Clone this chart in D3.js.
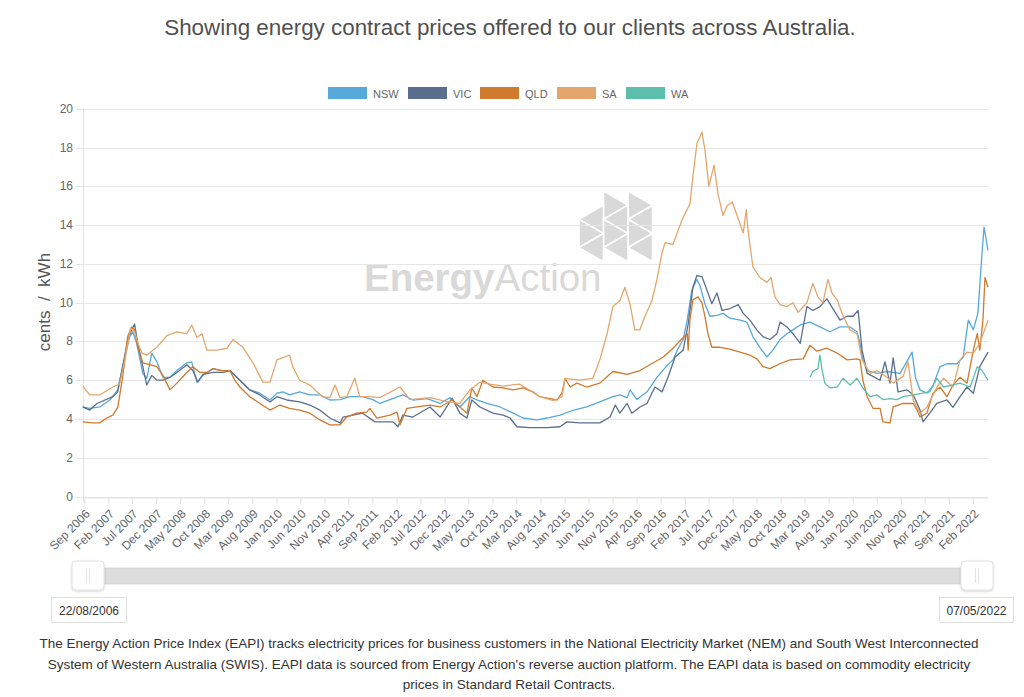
<!DOCTYPE html>
<html>
<head>
<meta charset="utf-8">
<script src="https://cdn.jsdelivr.net/npm/d3@7"></script>
<style>
  html, body { margin: 0; padding: 0; background: #fff; }
  svg { display: block; font-family: "Liberation Sans", Arial, Helvetica, sans-serif; }
</style>
</head>
<body>
<svg id="chart" width="1024" height="697"></svg>
<script>
// ---------------- DATA ----------------
const seriesNames = ["NSW", "VIC", "QLD", "SA", "WA"];
const seriesColors = ["#58a9db", "#5a6f8e", "#cf7a2d", "#e3a76d", "#5bbfab"];

const yTicks = [0, 2, 4, 6, 8, 10, 12, 14, 16, 18, 20];
const xTickLabels = ["Sep 2006","Feb 2007","Jul 2007","Dec 2007","May 2008","Oct 2008","Mar 2009","Aug 2009",
  "Jan 2010","Jun 2010","Nov 2010","Apr 2011","Sep 2011","Feb 2012","Jul 2012","Dec 2012","May 2013","Oct 2013",
  "Mar 2014","Aug 2014","Jan 2015","Jun 2015","Nov 2015","Apr 2016","Sep 2016","Feb 2017","Jul 2017","Dec 2017",
  "May 2018","Oct 2018","Mar 2019","Aug 2019","Jan 2020","Jun 2020","Nov 2020","Apr 2021","Sep 2021","Feb 2022"];

const rangeStart = "22/08/2006";
const rangeEnd = "07/05/2022";

const nsw = [
  ["2006-08-22",4.62],["2006-10-06",4.55],["2006-12-08",4.62],["2007-02-10",4.98],["2007-04-01",5.5],
  ["2007-05-02",6.7],["2007-06-16",8.25],["2007-07-05",8.5],["2007-07-30",7.9],["2007-09-07",6.35],
  ["2007-10-02",6.1],["2007-11-03",7.4],["2007-12-05",6.95],["2008-01-12",6.15],["2008-02-26",6.15],
  ["2008-04-10",6.5],["2008-06-12",6.9],["2008-07-13",6.95],["2008-08-15",5.9],["2008-09-22",6.25],
  ["2008-11-25",6.6],["2009-01-28",6.5],["2009-03-11",6.5],["2009-05-14",6.0],["2009-07-16",5.5],
  ["2009-09-18",5.33],["2009-11-21",4.98],["2010-01-04",5.33],["2010-02-11",5.4],["2010-03-25",5.24],
  ["2010-05-28",5.4],["2010-08-01",5.24],["2010-10-03",5.24],["2010-12-05",4.98],["2011-02-08",5.0],
  ["2011-04-10",5.15],["2011-07-01",5.15],["2011-09-04",5.0],["2011-10-18",4.8],["2011-12-21",5.0],
  ["2012-03-12",5.24],["2012-05-14",4.98],["2012-08-12",5.05],["2012-11-03",4.8],["2013-01-05",5.1],
  ["2013-03-08",4.62],["2013-05-10",5.15],["2013-06-24",4.98],["2013-08-27",4.8],["2013-11-18",4.62],
  ["2014-02-09",4.3],["2014-04-12",4.05],["2014-07-09",3.95],["2014-09-12",4.05],["2014-12-03",4.2],
  ["2015-02-23",4.45],["2015-05-21",4.62],["2015-08-12",4.88],["2015-11-03",5.15],["2015-12-17",5.24],
  ["2016-02-01",5.1],["2016-02-20",5.5],["2016-04-03",5.0],["2016-06-06",5.4],["2016-08-08",6.15],
  ["2016-10-11",6.75],["2016-11-18",7.05],["2016-12-15",7.55],["2017-01-21",8.1],["2017-02-16",9.1],
  ["2017-03-17",10.65],["2017-04-18",11.2],["2017-05-07",10.9],["2017-06-08",9.95],["2017-07-09",9.3],
  ["2017-08-23",9.35],["2017-10-01",9.45],["2017-11-14",9.2],["2018-01-17",9.1],["2018-03-01",9.0],
  ["2018-04-08",8.25],["2018-05-22",7.7],["2018-07-06",7.2],["2018-08-13",7.55],["2018-09-27",8.1],
  ["2018-11-10",8.4],["2018-12-18",8.6],["2019-02-02",8.85],["2019-04-05",9.0],["2019-06-07",8.75],
  ["2019-08-09",8.5],["2019-10-12",8.75],["2019-12-15",8.75],["2020-01-28",8.5],["2020-02-16",7.9],
  ["2020-03-05",7.05],["2020-04-01",6.5],["2020-06-03",6.35],["2020-08-05",6.45],["2020-10-27",6.35],
  ["2021-01-11",7.45],["2021-02-01",6.15],["2021-03-02",5.5],["2021-04-15",5.33],["2021-05-23",5.7],
  ["2021-07-07",6.7],["2021-08-20",6.85],["2021-10-23",6.85],["2021-12-01",7.2],["2022-01-02",9.1],
  ["2022-02-03",8.6],["2022-03-04",9.45],["2022-03-30",12.55],["2022-04-12",13.9],["2022-05-07",12.7]
];

const vic = [
  ["2006-08-22",4.62],["2006-10-06",4.46],["2006-11-20",4.8],["2007-03-01",5.15],["2007-04-01",5.4],
  ["2007-05-02",6.7],["2007-06-03",8.05],["2007-06-28",8.6],["2007-07-17",8.9],["2007-08-06",7.9],
  ["2007-09-07",6.7],["2007-10-02",5.75],["2007-11-03",6.25],["2007-12-05",6.0],["2008-01-12",6.0],
  ["2008-02-26",6.15],["2008-04-10",6.4],["2008-06-12",6.8],["2008-07-20",6.5],["2008-08-21",5.9],
  ["2008-09-22",6.3],["2008-11-25",6.4],["2009-01-28",6.4],["2009-03-11",6.5],["2009-05-14",6.0],
  ["2009-07-16",5.5],["2009-09-18",5.24],["2009-11-21",4.88],["2010-01-04",5.15],["2010-03-07",4.98],
  ["2010-05-28",4.88],["2010-08-01",4.72],["2010-10-03",4.46],["2010-12-05",4.05],["2011-02-08",3.8],
  ["2011-02-27",4.1],["2011-04-30",4.2],["2011-07-01",4.3],["2011-09-17",3.85],["2011-10-18",3.85],
  ["2012-01-09",3.85],["2012-02-10",3.6],["2012-03-12",4.2],["2012-05-14",4.1],["2012-08-31",4.62],
  ["2012-11-03",4.1],["2013-01-18",5.07],["2013-03-08",4.3],["2013-04-22",4.05],["2013-05-23",4.98],
  ["2013-07-13",4.62],["2013-10-04",4.3],["2013-12-07",4.2],["2014-01-20",4.05],["2014-03-04",3.6],
  ["2014-05-25",3.55],["2014-09-12",3.55],["2014-12-03",3.6],["2015-01-16",3.85],["2015-04-07",3.8],
  ["2015-08-12",3.8],["2015-10-16",4.1],["2015-11-18",4.72],["2015-12-17",4.3],["2016-02-01",4.8],
  ["2016-03-02",4.3],["2016-04-22",4.62],["2016-06-06",4.8],["2016-07-26",5.65],["2016-09-10",5.4],
  ["2016-10-17",6.15],["2016-12-01",7.2],["2017-01-21",7.55],["2017-02-22",8.9],["2017-03-24",10.8],
  ["2017-04-18",11.4],["2017-05-20",11.35],["2017-06-21",10.65],["2017-07-22",9.95],["2017-08-23",10.5],
  ["2017-09-25",9.6],["2017-11-14",9.7],["2018-01-05",9.9],["2018-02-06",9.45],["2018-03-20",9.1],
  ["2018-05-03",8.6],["2018-06-11",8.25],["2018-07-25",8.1],["2018-09-08",8.4],["2018-09-27",9.0],
  ["2018-11-10",8.75],["2018-12-18",8.4],["2019-02-02",7.9],["2019-03-16",9.8],["2019-04-23",9.6],
  ["2019-06-07",9.8],["2019-07-21",10.2],["2019-10-12",9.1],["2019-11-26",9.3],["2020-01-03",9.3],
  ["2020-02-04",9.6],["2020-02-29",7.55],["2020-04-01",6.35],["2020-05-08",6.2],["2020-06-22",6.0],
  ["2020-07-23",6.95],["2020-08-24",5.85],["2020-09-13",7.15],["2020-10-14",5.4],["2020-12-10",5.5],
  ["2021-01-18",5.25],["2021-03-02",4.46],["2021-03-21",3.85],["2021-05-03",4.3],["2021-06-17",4.8],
  ["2021-08-20",4.98],["2021-09-27",4.6],["2021-11-11",5.15],["2021-12-25",5.65],["2022-02-03",5.33],
  ["2022-03-16",6.7],["2022-05-07",7.45]
];

const qld = [
  ["2006-08-22",3.85],["2006-10-25",3.8],["2006-12-08",3.8],["2007-01-22",4.05],["2007-03-01",4.2],
  ["2007-04-01",4.6],["2007-05-02",6.15],["2007-06-03",8.25],["2007-06-28",8.75],["2007-07-17",8.6],
  ["2007-08-06",7.7],["2007-09-07",6.9],["2007-10-21",6.8],["2007-12-05",6.7],["2008-01-12",6.25],
  ["2008-02-26",5.5],["2008-04-10",5.85],["2008-06-12",6.4],["2008-07-20",6.7],["2008-09-03",6.4],
  ["2008-10-17",6.4],["2008-11-25",6.6],["2009-01-08",6.5],["2009-03-11",6.5],["2009-04-12",6.0],
  ["2009-05-14",5.65],["2009-07-16",5.15],["2009-09-18",4.8],["2009-11-21",4.46],["2010-01-23",4.72],
  ["2010-03-25",4.55],["2010-05-28",4.46],["2010-08-01",4.3],["2010-10-03",3.95],["2010-12-05",3.7],
  ["2011-02-08",3.7],["2011-03-22",4.1],["2011-05-24",4.3],["2011-07-27",4.35],["2011-08-16",4.55],
  ["2011-09-29",4.05],["2011-12-21",4.2],["2012-02-04",4.35],["2012-02-23",3.7],["2012-04-07",4.55],
  ["2012-06-09",4.62],["2012-08-31",4.72],["2012-11-03",4.62],["2013-01-18",4.98],["2013-03-08",4.62],
  ["2013-04-22",4.3],["2013-05-23",5.6],["2013-06-24",5.15],["2013-08-01",6.0],["2013-10-04",5.65],
  ["2013-12-07",5.6],["2014-02-09",5.5],["2014-04-12",5.6],["2014-06-14",5.4],["2014-07-28",5.15],
  ["2014-10-01",5.05],["2014-11-14",4.98],["2014-12-15",5.33],["2015-01-04",6.1],["2015-02-05",5.65],
  ["2015-03-19",5.85],["2015-05-21",5.65],["2015-08-12",5.85],["2015-11-03",6.45],["2016-02-01",6.3],
  ["2016-04-22",6.5],["2016-07-16",6.9],["2016-09-18",7.2],["2016-11-18",7.65],["2017-01-15",8.15],
  ["2017-02-16",8.4],["2017-02-22",7.55],["2017-03-05",9.1],["2017-03-24",10.15],["2017-04-25",10.3],
  ["2017-05-20",10.0],["2017-06-08",9.3],["2017-06-27",8.4],["2017-07-22",7.7],["2017-09-12",7.7],
  ["2017-11-14",7.6],["2018-01-17",7.45],["2018-03-20",7.3],["2018-05-03",7.1],["2018-06-11",6.7],
  ["2018-07-25",6.6],["2018-09-27",6.85],["2018-11-29",7.05],["2019-02-21",7.1],["2019-04-05",7.8],
  ["2019-05-18",7.5],["2019-07-21",7.65],["2019-09-24",7.4],["2019-11-26",7.05],["2020-01-28",7.1],
  ["2020-02-16",7.05],["2020-03-05",6.0],["2020-04-01",5.15],["2020-05-08",4.55],["2020-06-22",4.55],
  ["2020-07-10",3.85],["2020-08-24",3.8],["2020-09-13",4.62],["2020-11-15",4.8],["2021-01-18",4.8],
  ["2021-02-12",4.46],["2021-03-02",4.1],["2021-04-15",4.3],["2021-05-23",5.33],["2021-07-07",5.65],
  ["2021-08-20",5.15],["2021-09-27",5.75],["2021-11-11",6.15],["2021-12-25",5.85],["2022-02-03",7.55],
  ["2022-02-28",8.4],["2022-03-16",7.55],["2022-04-05",9.1],["2022-04-18",11.3],["2022-05-07",10.8]
];

const sa = [
  ["2006-08-22",5.7],["2006-10-06",5.24],["2006-12-08",5.24],["2007-03-01",5.65],["2007-04-13",5.8],
  ["2007-05-15",7.0],["2007-06-22",8.7],["2007-07-17",8.5],["2007-08-12",7.8],["2007-09-01",7.4],
  ["2007-10-02",7.3],["2007-12-05",7.7],["2008-02-07",8.3],["2008-04-10",8.5],["2008-06-12",8.4],
  ["2008-07-13",8.85],["2008-08-15",8.2],["2008-09-16",8.4],["2008-10-17",7.55],["2008-12-20",7.55],
  ["2009-02-22",7.65],["2009-03-30",8.1],["2009-06-02",7.7],["2009-08-05",6.9],["2009-10-07",5.9],
  ["2009-11-21",5.9],["2010-01-04",7.05],["2010-02-24",7.2],["2010-03-25",7.3],["2010-04-14",6.7],
  ["2010-05-28",6.0],["2010-08-01",5.75],["2010-09-14",5.4],["2010-10-21",5.15],["2010-12-05",5.1],
  ["2011-01-07",5.75],["2011-02-08",5.1],["2011-03-22",5.15],["2011-05-12",6.1],["2011-06-13",5.15],
  ["2011-08-16",5.15],["2011-10-18",5.1],["2012-02-23",5.65],["2012-04-25",5.0],["2012-08-31",5.1],
  ["2012-12-16",4.9],["2013-03-08",4.8],["2013-05-10",5.5],["2013-07-13",5.9],["2013-09-15",5.8],
  ["2013-12-07",5.7],["2014-03-22",5.8],["2014-07-28",5.15],["2014-10-22",4.95],["2014-12-15",5.15],
  ["2015-01-04",6.1],["2015-04-07",6.0],["2015-06-29",6.1],["2015-08-12",7.05],["2015-09-27",8.4],
  ["2015-11-03",9.8],["2015-12-17",10.1],["2016-01-18",10.8],["2016-02-20",9.9],["2016-03-21",8.6],
  ["2016-04-22",8.6],["2016-05-24",9.3],["2016-07-07",10.1],["2016-08-08",11.2],["2016-09-10",12.6],
  ["2016-09-29",13.1],["2016-11-18",13.0],["2016-12-21",13.75],["2017-01-21",14.4],["2017-03-05",15.1],
  ["2017-03-24",16.5],["2017-04-18",18.2],["2017-05-20",18.8],["2017-06-08",17.9],["2017-07-03",16.0],
  ["2017-08-05",17.1],["2017-08-30",15.6],["2017-10-01",14.5],["2017-10-26",15.0],["2017-11-28",15.2],
  ["2017-12-29",14.5],["2018-02-06",13.6],["2018-02-25",14.8],["2018-03-08",13.75],["2018-04-08",11.85],
  ["2018-05-22",11.3],["2018-07-06",11.05],["2018-08-01",11.3],["2018-08-26",10.3],["2018-09-27",9.9],
  ["2018-11-10",9.8],["2018-12-18",10.0],["2019-01-20",9.5],["2019-03-16",10.0],["2019-04-23",11.0],
  ["2019-05-25",10.3],["2019-06-26",10.0],["2019-07-28",11.2],["2019-08-22",10.5],["2019-09-24",10.15],
  ["2019-11-01",9.3],["2019-12-15",8.6],["2020-01-28",8.4],["2020-02-29",7.05],["2020-04-20",6.35],
  ["2020-06-03",6.5],["2020-08-05",6.15],["2020-09-13",5.85],["2020-11-15",6.2],["2020-12-16",6.95],
  ["2021-01-18",5.0],["2021-03-02",4.3],["2021-04-15",4.6],["2021-06-17",5.65],["2021-07-29",6.1],
  ["2021-09-27",5.65],["2021-11-11",7.05],["2021-12-25",7.45],["2022-02-03",7.4],["2022-03-16",7.9],
  ["2022-05-07",9.1]
];

const wa = [
  ["2019-04-05",6.15],["2019-04-23",6.45],["2019-05-25",6.6],["2019-06-07",7.3],["2019-06-19",6.6],
  ["2019-07-08",5.85],["2019-08-09",5.6],["2019-09-24",5.65],["2019-11-01",6.1],["2019-12-15",5.75],
  ["2020-01-28",6.1],["2020-03-05",5.6],["2020-04-20",5.15],["2020-06-03",5.24],["2020-07-10",5.0],
  ["2020-08-24",5.05],["2020-10-08",5.0],["2020-11-15",5.15],["2021-01-18",5.24],["2021-03-21",5.33],
  ["2021-05-03",5.4],["2021-06-17",6.1],["2021-07-29",5.65],["2021-09-22",5.75],["2021-11-11",5.85],
  ["2022-01-14",5.65],["2022-02-28",6.7],["2022-03-30",6.5],["2022-05-07",6.0]
];

const seriesValues = [nsw, vic, qld, sa, wa];

const titleText = "Showing energy contract prices offered to our clients across Australia.";
const yAxisTitle = "cents  /  kWh";
const footerLines = [
  "The Energy Action Price Index (EAPI) tracks electricity prices for business customers in the National Electricity Market (NEM) and South West Interconnected",
  "System of Western Australia (SWIS). EAPI data is sourced from Energy Action's reverse auction platform. The EAPI data is based on commodity electricity",
  "prices in Standard Retail Contracts."
];

// ---------------- DRAWING ----------------
const svg = d3.select("#chart");
const parseDate = d3.timeParse("%Y-%m-%d");
const parseTick = d3.timeParse("%b %Y");
const parseRange = d3.timeParse("%d/%m/%Y");

const plot = { left: 82.7, right: 988, top: 108.9, bottom: 496.5 };

const x = d3.scaleTime()
  .domain([parseRange(rangeStart), parseRange(rangeEnd)])
  .range([plot.left, plot.right]);
const y = d3.scaleLinear().domain([0, 20]).range([plot.bottom, plot.top]);

// Title
svg.append("text")
  .attr("x", 510).attr("y", 34.5)
  .attr("text-anchor", "middle")
  .attr("font-size", 22.4)
  .attr("fill", "#505050")
  .text(titleText);

// Watermark
const wm = svg.append("g").attr("class", "watermark");
const wmText = wm.append("text")
  .attr("x", 364).attr("y", 291)
  .attr("font-size", 38.5)
  .attr("fill", "#d9d9d9");
wmText.append("tspan").attr("font-weight", "bold").text("Energy");
wmText.append("tspan").text("Action");

// Logo: triangle lattice
{
  const x0 = 579, w = 24.5, hh = w / Math.sqrt(3);
  const y0 = 191;
  const X = i => x0 + i * w, Y = k => y0 + k * hh;
  // [column, k, dir] dir: 1 = vertical edge left, apex right; -1 = vertical edge right, apex left
  const tris = [
    [1, 0, 1], [2, 1, -1], [2, 0, 1],
    [0, 1, -1], [0, 2, 1], [1, 1, -1],[1, 2, 1], [2, 2, 1],
    [0, 3, -1], [1, 3, -1], [2, 3, -1]
  ];
  tris.forEach(([c, k, d]) => {
    let pts;
    if (d === 1) pts = [[X(c), Y(k)], [X(c), Y(k + 2)], [X(c + 1), Y(k + 1)]];
    else pts = [[X(c + 1), Y(k)], [X(c + 1), Y(k + 2)], [X(c), Y(k + 1)]];
    wm.append("path").attr("d", "M" + pts.map(p => p.join(",")).join("L") + "Z")
      .attr("fill", "#d9d9d9").attr("stroke", "#fff").attr("stroke-width", 1.6);
  });
}

// Gridlines & y axis
const gy = svg.append("g");
gy.selectAll("line.grid").data(yTicks).join("line")
  .attr("x1", 76).attr("x2", plot.right)
  .attr("y1", d => Math.round(y(d)) + 0.5).attr("y2", d => Math.round(y(d)) + 0.5)
  .attr("stroke", "#e6e6e6").attr("stroke-width", 1);
gy.selectAll("text").data(yTicks).join("text")
  .attr("x", 73).attr("y", d => y(d) + 4)
  .attr("text-anchor", "end").attr("font-size", 12).attr("fill", "#666")
  .text(d => d);
svg.append("line")
  .attr("x1", 83.5).attr("x2", 83.5).attr("y1", plot.top).attr("y2", plot.bottom + 6)
  .attr("stroke", "#e3e3e3");

// y axis title
svg.append("text")
  .attr("transform", "translate(50,302) rotate(-90)")
  .attr("text-anchor", "middle").attr("font-size", 17).attr("fill", "#555")
  .style("white-space", "pre")
  .text(yAxisTitle);

// x axis
const xTicks = xTickLabels.map(parseTick);
const xAxis = d3.axisBottom(x).tickValues(xTicks).tickFormat(d3.timeFormat("%b %Y")).tickSize(7).tickSizeOuter(0);
const gx = svg.append("g").attr("transform", `translate(0,${Math.round(plot.bottom) + 0.5})`).call(xAxis);
gx.select(".domain").attr("stroke", "#e3e3e3");
gx.selectAll(".tick line").attr("stroke", "#e3e3e3");
gx.selectAll(".tick text")
  .attr("font-family", "Liberation Sans, Arial, sans-serif")
  .attr("font-size", 12).attr("fill", "#666")
  .attr("text-anchor", "end")
  .attr("dy", null).attr("y", null)
  .attr("transform", "translate(6,17) rotate(-45)");

// Lines
const line = d3.line().x(d => x(d.date)).y(d => y(d.v));
const gl = svg.append("g");
seriesValues.forEach((arr, i) => {
  const data = arr.map(([d, v]) => ({ date: parseDate(d), v }));
  gl.append("path").datum(data)
    .attr("d", line)
    .attr("fill", "none")
    .attr("stroke", seriesColors[i])
    .attr("stroke-width", 1.3)
    .attr("stroke-linejoin", "round");
});

// Legend
const legendX = [328, 408, 480, 557, 626];
const lg = svg.append("g");
seriesNames.forEach((n, i) => {
  lg.append("rect").attr("x", legendX[i]).attr("y", 87).attr("width", 39).attr("height", 12)
    .attr("fill", seriesColors[i]);
  lg.append("text").attr("x", legendX[i] + 45).attr("y", 97.5)
    .attr("font-size", 11).attr("fill", "#666").text(n);
});

// Range slider
const sl = svg.append("g");
sl.append("rect").attr("x", 100).attr("y", 568).attr("width", 875).attr("height", 16)
  .attr("fill", "#dcdcdc").attr("stroke", "#d4d4d4").attr("stroke-width", 0.8);
const defs = svg.append("defs");
const f = defs.append("filter").attr("id", "hshadow").attr("x", "-30%").attr("y", "-30%").attr("width", "160%").attr("height", "160%");
f.append("feDropShadow").attr("dx", 0).attr("dy", 1).attr("stdDeviation", 1.2).attr("flood-color", "#000").attr("flood-opacity", 0.18);
[[72, 104], [961, 993]].forEach(([a, b]) => {
  sl.append("rect").attr("x", a).attr("y", 561).attr("width", b - a).attr("height", 29).attr("rx", 4)
    .attr("fill", "#fff").attr("stroke", "#e2e2e2").attr("filter", "url(#hshadow)");
  const cx = (a + b) / 2;
  [-1.5, 1.5].forEach(o => sl.append("line").attr("x1", cx + o).attr("x2", cx + o).attr("y1", 568).attr("y2", 583)
    .attr("stroke", "#e4e4e4").attr("stroke-width", 1));
});
// date boxes
[[51, 126, rangeStart], [939, 1013, rangeEnd]].forEach(([a, b, t]) => {
  sl.append("rect").attr("x", a + 0.5).attr("y", 597.5).attr("width", b - a).attr("height", 25)
    .attr("fill", "#fff").attr("stroke", "#e0e0e0");
  sl.append("text").attr("x", (a + b) / 2 + 0.5).attr("y", 614.5).attr("text-anchor", "middle")
    .attr("font-size", 12).attr("fill", "#333").text(t);
});

// Footer
svg.append("g").selectAll("text").data(footerLines).join("text")
  .attr("x", 509).attr("y", (d, i) => 648 + i * 20.5)
  .attr("text-anchor", "middle").attr("font-size", 13.5).attr("fill", "#333")
  .text(d => d);
</script>
</body>
</html>
